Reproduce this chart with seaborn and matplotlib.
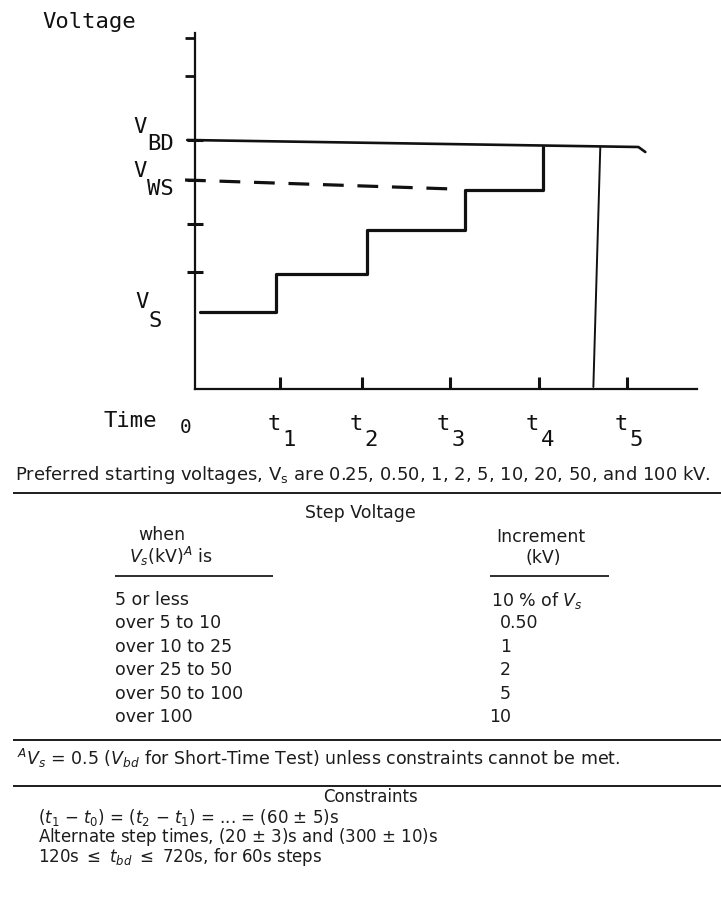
import matplotlib
matplotlib.use("Agg")
import matplotlib.pyplot as plt
import seaborn as sns

# ---------------- data ----------------
# time in units of the nominal step interval, voltage in arbitrary units
step_times = [0.06, 0.935, 1.99, 3.12, 4.02]
step_volts = [7.7, 11.5, 15.9, 19.9, 24.2]
vbd_times = [-0.09, 5.12, 5.20]
vbd_volts = [24.9, 24.2, 23.7]
vws_times = [-0.115, 2.98]
vws_volts = [20.9, 20.0]
bd_times = [4.68, 4.60]
bd_volts = [24.2, 0.2]
time_ticks = [0.98, 1.93, 2.94, 3.97, 4.99]
time_subs = ["1", "2", "3", "4", "5"]
volt_ticks = [11.7, 16.5, 20.9, 24.9]
volt_ticks_upper = [31.3, 35.1]
axis_time_end = 5.8
axis_volt_end = 35.6

starting_voltages = ["0.25", "0.50", "1", "2", "5", "10", "20", "50", "100"]
when_rows = ["5 or less", "over 5 to 10", "over 10 to 25", "over 25 to 50",
             "over 50 to 100", "over 100"]
incr_rows = [r"10 % of $V_s$", "0.50", "1", "2", "5", "10"]
constraint_rows = [r"($t_1$ $-$ $t_0$) = ($t_2$ $-$ $t_1$) = ... = (60 $\pm$ 5)s",
                   r"Alternate step times, (20 $\pm$ 3)s and (300 $\pm$ 10)s",
                   r"120s $\leq$ $t_{bd}$ $\leq$ 720s, for 60s steps"]

# ---------------- style ----------------
sns.set_theme(style="white")
plt.rcParams["font.family"] = ["DejaVu Sans"]
plt.rcParams["mathtext.fontset"] = "dejavusans"

W, H = 721, 905
fig = plt.figure(figsize=(W / 100, H / 100), dpi=100)
fig.patch.set_facecolor("white")

# overlay in pixel coordinates for text and rules
ov = fig.add_axes([0, 0, 1, 1])
ov.set_xlim(0, W)
ov.set_ylim(H, 0)
ov.axis("off")

# chart axes
x0_px, unit_px = 195, 86.6
y0_px, vunit_px = 389, 10.0
top_h = 445
ax = fig.add_axes([0, 1 - top_h / H, 1, top_h / H])
ax.set_facecolor("none")
ax.set_xlim(-x0_px / unit_px, (W - x0_px) / unit_px)
ax.set_ylim((y0_px - top_h) / vunit_px, y0_px / vunit_px)

ink = "#111111"
sns.lineplot(x=step_times, y=step_volts, ax=ax, color=ink, lw=2.3,
             drawstyle="steps-post", sort=False, estimator=None)
sns.lineplot(x=vbd_times, y=vbd_volts, ax=ax, color=ink, lw=1.9,
             sort=False, estimator=None)
sns.lineplot(x=vws_times, y=vws_volts, ax=ax, color=ink, lw=2.3,
             sort=False, estimator=None, linestyle=(0, (6.5, 4.3)))
sns.lineplot(x=bd_times, y=bd_volts, ax=ax, color=ink, lw=1.4,
             sort=False, estimator=None)

for s in ["top", "right"]:
    ax.spines[s].set_visible(False)
ax.spines["left"].set_position(("data", 0))
ax.spines["bottom"].set_position(("data", 0))
ax.spines["left"].set_bounds(0, axis_volt_end)
ax.spines["bottom"].set_bounds(0, axis_time_end)
for s in ["left", "bottom"]:
    ax.spines[s].set_color(ink)
    ax.spines[s].set_linewidth(1.6)
ax.set_xticks(time_ticks)
ax.set_yticks(volt_ticks)
ax.set_yticks(volt_ticks_upper, minor=True)
ax.tick_params(axis="x", direction="in", length=9, width=2.2, color=ink,
               labelbottom=False, bottom=True)
ax.tick_params(axis="y", which="major", direction="inout", length=11, width=2.2,
               color=ink, labelleft=False, left=True)
ax.tick_params(axis="y", which="minor", direction="out", length=7, width=2.0,
               color=ink, labelleft=False, left=True)
ax.grid(False)

# chart texts (typewriter style)
mono = "DejaVu Sans Mono"
ov.text(42, 28, "Voltage", fontsize=16, family=mono, color=ink, va="baseline")
for main_x, main_y, sub, sub_x, sub_y in [(133, 133, "BD", 147, 150),
                                         (133, 177, "WS", 147, 195),
                                         (135, 308, "S", 148, 327)]:
    ov.text(main_x, main_y, "V", fontsize=16, family=mono, color=ink, va="baseline")
    ov.text(sub_x, sub_y, sub, fontsize=16, family=mono, color=ink, va="baseline")
ov.text(103, 427, "Time", fontsize=16, family=mono, color=ink, va="baseline")
ov.text(186, 433, "0", fontsize=14, family=mono, color=ink, va="baseline", ha="center")
for tk, sub in zip(time_ticks, time_subs):
    px = x0_px + unit_px * tk
    ov.text(px - 6, 430, "t", fontsize=16, family=mono, color=ink,
            va="baseline", ha="center")
    ov.text(px + 9, 446, sub, fontsize=16, family=mono, color=ink,
            va="baseline", ha="center")

# ---------------- table part ----------------
tc = "#1c1c1c"
fs = 12.5
pref = ("Preferred starting voltages, V$_\\mathrm{s}$ are "
        + ", ".join(starting_voltages[:-1]) + ", and " + starting_voltages[-1] + " kV.")
ov.text(363, 475, pref, fontsize=13, color=tc, ha="center", va="center")
ov.hlines([493, 740, 786], 13, W, color=tc, lw=1.4)
ov.text(360, 513, "Step Voltage", fontsize=fs, color=tc, ha="center", va="center")
ov.text(162, 535, "when", fontsize=fs, color=tc, ha="center", va="center")
ov.text(171, 556, r"$V_s$(kV)$^A$ is", fontsize=fs, color=tc, ha="center", va="center")
ov.text(541, 537, "Increment", fontsize=fs, color=tc, ha="center", va="center")
ov.text(543, 558, "(kV)", fontsize=fs, color=tc, ha="center", va="center")
ov.hlines(576, 115, 273, color=tc, lw=1.3)
ov.hlines(576, 490, 609, color=tc, lw=1.3)
row_y0, row_dy = 600, 23.4
for i, (w, inc) in enumerate(zip(when_rows, incr_rows)):
    y = row_y0 + i * row_dy
    ov.text(115, y, w, fontsize=fs, color=tc, ha="left", va="center")
    if i == 0:
        ov.text(491, y, inc, fontsize=fs, color=tc, ha="left", va="center")
    elif i == 1:
        ov.text(500, y, inc, fontsize=fs, color=tc, ha="left", va="center")
    else:
        ov.text(511, y, inc, fontsize=fs, color=tc, ha="right", va="center")
ov.text(17, 758, r"$^A V_s$ = 0.5 ($V_{bd}$ for Short-Time Test) unless constraints cannot be met.",
        fontsize=fs, color=tc, ha="left", va="center")
ov.text(371, 797, "Constraints", fontsize=12, color=tc, ha="center", va="center")
for i, line in enumerate(constraint_rows):
    ov.text(38, 817 + i * 20, line, fontsize=12, color=tc, ha="left", va="center")

fig.savefig("out.png", dpi=100, facecolor="white")
